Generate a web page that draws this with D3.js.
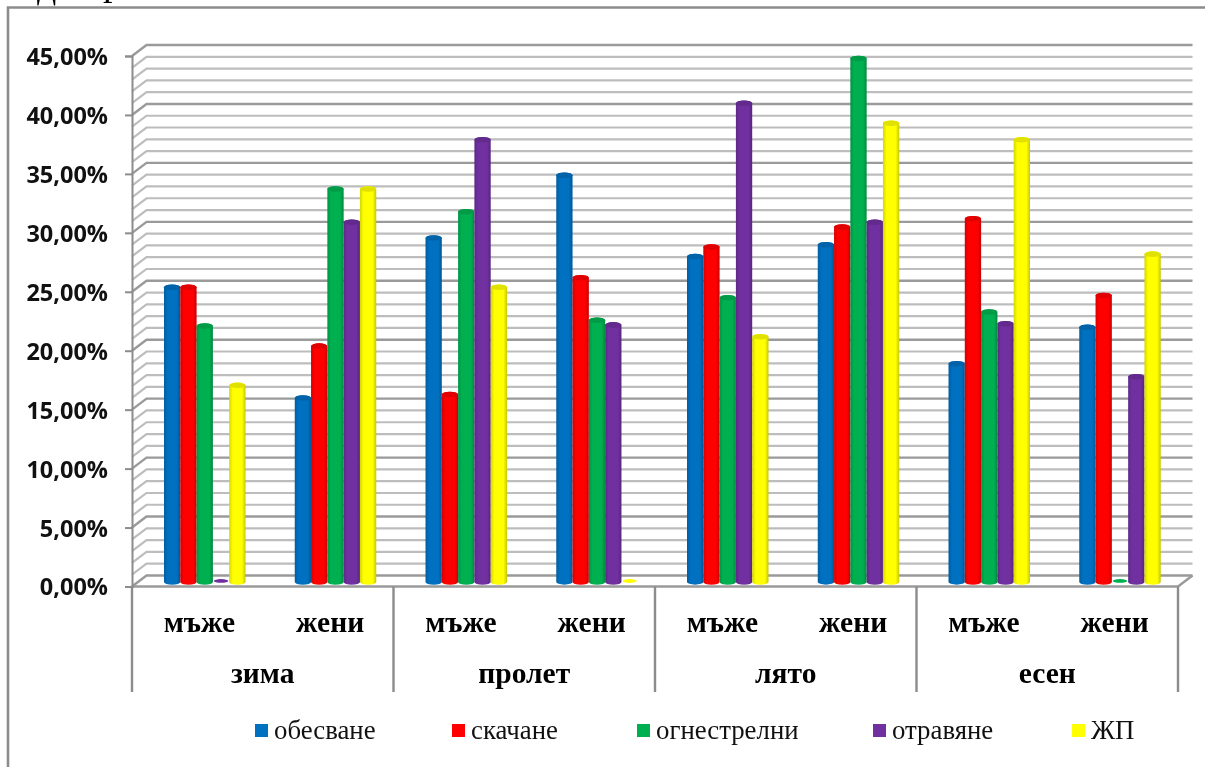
<!DOCTYPE html>
<html>
<head>
<meta charset="utf-8">
<script src="https://cdn.jsdelivr.net/npm/d3@7"></script>
<style>
body { margin: 0; background: #fff; }
svg { display: block; filter: blur(0.4px); }
</style>
</head>
<body>
<div id="chart"></div>
<script>
var seasons = ["зима", "пролет", "лято", "есен"];
var genders = ["мъже", "жени"];
var seriesNames = ["обесване", "скачане", "огнестрелни", "отравяне", "ЖП"];
var seriesColors = ["#0070c0", "#ff0000", "#00b050", "#7030a0", "#ffff00"];

var obesvane = [25.0, 15.6, 29.17, 34.5, 27.6, 28.6, 18.5, 21.6];
var skachane = [25.0, 20.0, 15.9, 25.8, 28.4, 30.1, 30.8, 24.3];
var ognestrelni = [21.7, 33.33, 31.4, 22.2, 24.1, 44.4, 22.9, 0];
var otravyane = [0, 30.5, 37.5, 21.8, 40.6, 30.5, 21.9, 17.4];
var zhp = [16.67, 33.33, 25.0, 0, 20.8, 38.9, 37.5, 27.8];
var seriesValues = [obesvane, skachane, ognestrelni, otravyane, zhp];

var yTicks = [0, 5, 10, 15, 20, 25, 30, 35, 40, 45];
var yGrid = d3.range(0, 46);

var svgWidth = 1205;
var svgHeight = 767;

var plot = { left: 132, right: 1178, top: 56, bottom: 586.5 };
var depth = { x: 14.5, y: 11 };
var axisBottom2 = 692;

var svg = d3.select("#chart")
    .append("svg")
    .attr("width", svgWidth)
    .attr("height", svgHeight);

var yScale = d3.scaleLinear().domain([0, 45]).range([plot.bottom, plot.top]);

// one slot per season+gender pair
var slots = d3.range(seasons.length * genders.length);
var xScale = d3.scaleBand().domain(slots).range([plot.left, plot.right]);
var xSeason = d3.scaleBand().domain(seasons).range([plot.left, plot.right]);
var xSeries = d3.scaleBand().domain(d3.range(seriesNames.length)).range([0, 81.5]);

// chart frame, cut off by the picture edge on the right and bottom
svg.append("path")
    .attr("d", "M8,767V7.5H1205")
    .attr("fill", "none")
    .attr("stroke", "#8c8c8c")
    .attr("stroke-width", 2.6);

// clipped line of text sitting above the chart, only the descenders show
svg.append("text")
    .attr("x", 37)
    .attr("y", -2)
    .style("font-family", "'Liberation Serif'")
    .style("font-size", "38px")
    .text("д");
svg.append("text")
    .attr("x", 103)
    .attr("y", -5)
    .style("font-family", "'Liberation Serif'")
    .style("font-size", "38px")
    .text("р");

var defs = svg.append("defs");
seriesColors.forEach(function(c, i) {
    var grad = defs.append("linearGradient").attr("id", "cyl" + i);
    grad.append("stop").attr("offset", "0").attr("stop-color", d3.color(c).darker(0.5));
    grad.append("stop").attr("offset", "0.22").attr("stop-color", c);
    grad.append("stop").attr("offset", "0.78").attr("stop-color", c);
    grad.append("stop").attr("offset", "1").attr("stop-color", d3.color(c).darker(0.7));
});

// back wall gridlines and the slanted bits on the side wall
var grid = svg.append("g");
grid.selectAll(".wall")
    .data(yGrid)
    .enter()
    .append("path")
    .attr("class", "wall")
    .attr("d", d => `M${plot.left},${yScale(d)}l${depth.x},${-depth.y}H${plot.right + depth.x}`)
    .attr("fill", "none")
    .attr("stroke", d => d % 5 == 0 ? "#9a9a9a" : "#bdbdbd")
    .attr("stroke-width", d => d % 5 == 0 ? 2.4 : 2.2);

// floor front edge and right side
svg.append("path")
    .attr("d", `M${plot.left},${plot.bottom}H${plot.right}l${depth.x},${-depth.y}`)
    .attr("fill", "none")
    .attr("stroke", "#9a9a9a")
    .attr("stroke-width", 2.4);

// left axis
var leftAxis = d3.axisLeft(yScale)
    .tickValues(yTicks)
    .tickSize(7)
    .tickPadding(17)
    .tickFormat(d => d.toFixed(2).replace(".", ",") + "%");

var yAxis = svg.append("g")
    .attr("transform", `translate(${plot.left}, 0)`)
    .call(leftAxis);
yAxis.selectAll("path, line").attr("stroke", "#8c8c8c").attr("stroke-width", 2);
yAxis.selectAll("text")
    .attr("fill", "#111")
    .attr("dy", "0.36em")
    .style("font-family", "'Open Sans'")
    .style("font-weight", "bold")
    .style("font-size", "23.5px");

// multi level category axis
svg.selectAll(".sep")
    .data(d3.range(seasons.length + 1))
    .enter()
    .append("line")
    .attr("class", "sep")
    .attr("x1", d => plot.left + d * xSeason.bandwidth())
    .attr("x2", d => plot.left + d * xSeason.bandwidth())
    .attr("y1", plot.bottom)
    .attr("y2", axisBottom2)
    .attr("stroke", "#8c8c8c")
    .attr("stroke-width", 2.4);

svg.selectAll(".gender")
    .data(slots)
    .enter()
    .append("text")
    .attr("class", "gender")
    .attr("x", d => xScale(d) + xScale.bandwidth() / 2 + 2)
    .attr("y", 632)
    .attr("text-anchor", "middle")
    .style("font-family", "'Liberation Serif'")
    .style("font-weight", "bold")
    .style("font-size", "29.5px")
    .text(d => genders[d % 2]);

svg.selectAll(".season")
    .data(seasons)
    .enter()
    .append("text")
    .attr("class", "season")
    .attr("x", d => xSeason(d) + xSeason.bandwidth() / 2)
    .attr("y", 683)
    .attr("text-anchor", "middle")
    .style("font-family", "'Liberation Serif'")
    .style("font-weight", "bold")
    .style("font-size", "29.5px")
    .text(d => d);

// cylinders, all standing a little behind the front edge of the floor
var barOffset = 32;
var floorY = yScale(0) - 4.6;
var ry = 2.8;

seriesValues.forEach(function(values, s) {
    var group = svg.append("g").attr("class", "series" + s);
    var w = xSeries.bandwidth();
    group.selectAll("path")
        .data(values)
        .enter()
        .append("path")
        .attr("d", function(d, i) {
            var x0 = xScale(i) + barOffset + xSeries(s);
            var top = floorY - (yScale(0) - yScale(d));
            if (d == 0) {
                return `M${x0 + 1},${floorY - 1}a${w / 2 - 1},${ry - 1} 0 1,1 ${w - 2},0a${w / 2 - 1},${ry - 1} 0 1,1 ${-(w - 2)},0z`;
            }
            return `M${x0},${top}V${floorY}a${w / 2},${ry} 0 0,0 ${w},0V${top}a${w / 2},${ry} 0 0,0 ${-w},0z`;
        })
        .attr("fill", d => d == 0 ? seriesColors[s] : `url(#cyl${s})`);
    // darker lid on top of each cylinder
    group.selectAll("ellipse")
        .data(values)
        .enter()
        .append("ellipse")
        .attr("display", d => d == 0 ? "none" : null)
        .attr("cx", (d, i) => xScale(i) + barOffset + xSeries(s) + w / 2)
        .attr("cy", d => floorY - (yScale(0) - yScale(d)))
        .attr("rx", w / 2)
        .attr("ry", ry)
        .attr("fill", d3.color(seriesColors[s]).darker(0.35));
});

// legend
var legendX = [255, 452, 637, 873, 1072];
var legend = svg.selectAll(".legend")
    .data(seriesNames)
    .enter()
    .append("g")
    .attr("class", "legend")
    .attr("transform", (d, i) => `translate(${legendX[i]}, 724)`);

legend.append("rect")
    .attr("width", 13)
    .attr("height", 13)
    .attr("fill", (d, i) => seriesColors[i]);

legend.append("text")
    .attr("x", 19)
    .attr("y", 15)
    .style("font-family", "'Liberation Serif'")
    .style("font-size", "26.8px")
    .attr("fill", "#111")
    .text(d => d);
</script>
</body>
</html>
